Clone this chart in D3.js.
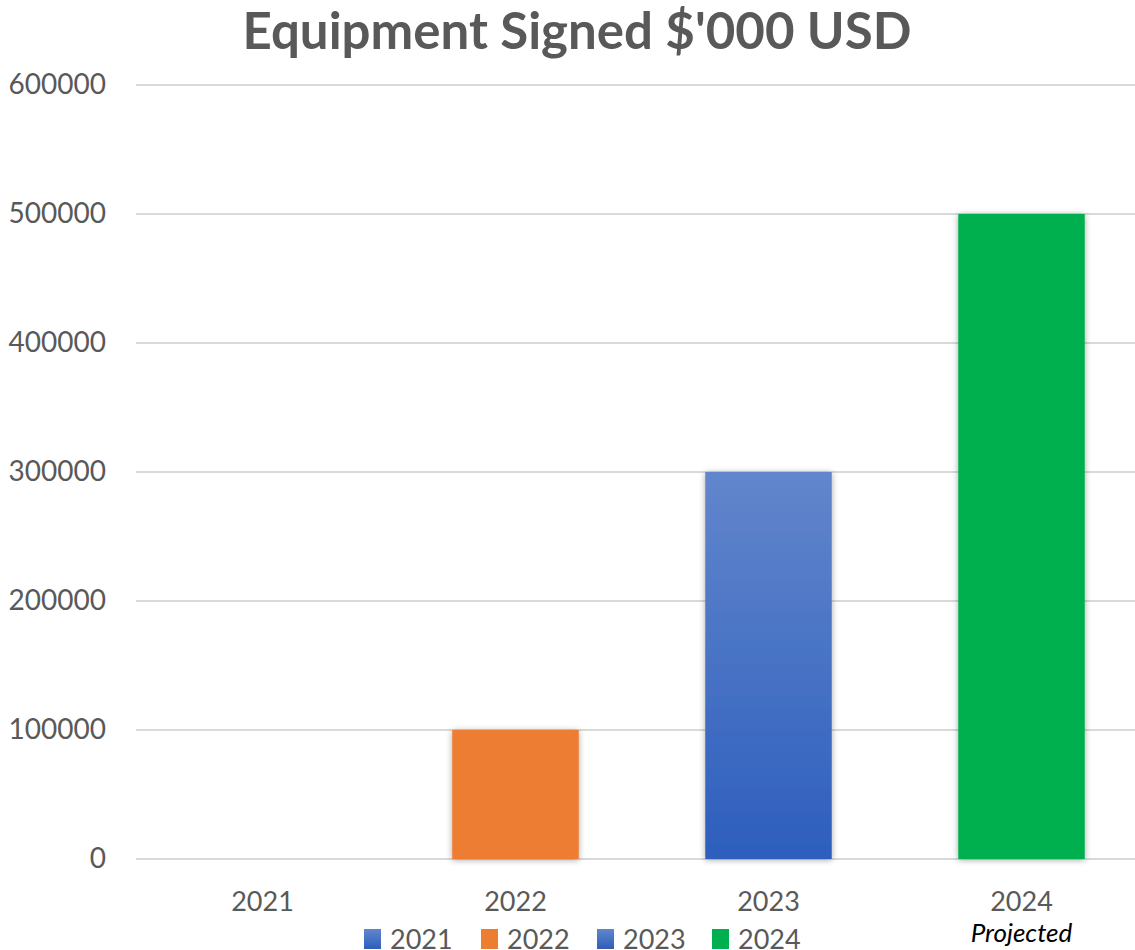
<!DOCTYPE html>
<html>
<head>
<meta charset="utf-8">
<script src="https://cdn.jsdelivr.net/npm/d3@7"></script>
<style>
  body { margin: 0; background: #fff; }
  svg { font-family: Lato, "Open Sans", sans-serif; }
</style>
</head>
<body>
<svg id="chart"></svg>
<script>
const years = ["2021", "2022", "2023", "2024"];
const values = [0, 100000, 300000, 500000];
const yTicks = [0, 100000, 200000, 300000, 400000, 500000, 600000];
const titleText = "Equipment Signed $'000 USD";
const noteText = "Projected"; // under the 2024 label

const W = 1135, H = 950;
const plot = {left: 136, right: 1148, top: 85, bottom: 859};

const svg = d3.select("#chart").attr("width", W).attr("height", H);

const defs = svg.append("defs");
const blueGrad = defs.append("linearGradient")
    .attr("id", "blueGrad").attr("x1", 0).attr("y1", 0).attr("x2", 0).attr("y2", 1);
blueGrad.append("stop").attr("offset", "0%").attr("stop-color", "#6286cc");
blueGrad.append("stop").attr("offset", "100%").attr("stop-color", "#2d5ebd");

const shadow = defs.append("filter").attr("id", "shadow")
    .attr("x", "-20%").attr("y", "-5%").attr("width", "140%").attr("height", "110%");
shadow.append("feDropShadow").attr("dx", 0).attr("dy", 1).attr("stdDeviation", 3)
    .attr("flood-color", "#000").attr("flood-opacity", 0.35);

const colors = {"2021": "url(#blueGrad)", "2022": "#ed7d31", "2023": "url(#blueGrad)", "2024": "#00b050"};

const x = d3.scaleBand().domain(years).range([plot.left, plot.right])
    .paddingInner(0.5).paddingOuter(0.25);
const y = d3.scaleLinear().domain([0, 600000]).range([plot.bottom, plot.top]);

// title
svg.append("text")
    .attr("x", 577).attr("y", 49)
    .attr("text-anchor", "middle")
    .attr("font-size", 51).attr("font-weight", "bold")
    .attr("fill", "#595959")
    .text(titleText);

// gridlines
svg.selectAll("line.grid")
    .data(yTicks)
    .enter().append("line")
    .attr("class", "grid")
    .attr("x1", plot.left).attr("x2", W)
    .attr("y1", d => y(d)).attr("y2", d => y(d))
    .attr("stroke", "#d9d9d9").attr("stroke-width", 2);

// y labels
const yAxis = d3.axisLeft(y).tickValues(yTicks).tickSize(0).tickPadding(0).tickFormat(d3.format("d"));
svg.append("g")
    .attr("transform", "translate(106,0)")
    .call(yAxis)
    .call(g => g.select(".domain").remove())
    .call(g => g.selectAll("text").attr("fill", "#595959").attr("font-size", 28)
        .attr("font-family", "Lato, sans-serif"));

// bars
svg.selectAll("rect.bar")
    .data(years.map((d, i) => ({year: d, value: values[i]})))
    .enter().append("rect")
    .attr("class", "bar")
    .attr("x", d => x(d.year))
    .attr("width", x.bandwidth())
    .attr("y", d => y(d.value))
    .attr("height", d => y(0) - y(d.value))
    .attr("fill", d => colors[d.year])
    .attr("filter", d => d.value > 0 ? "url(#shadow)" : null);

// x labels
const xAxis = d3.axisBottom(x).tickSize(0).tickPadding(0);
svg.append("g")
    .attr("transform", `translate(0,${plot.bottom + 52})`)
    .call(xAxis)
    .call(g => g.select(".domain").remove())
    .call(g => g.selectAll("text").attr("fill", "#595959").attr("font-size", 27)
        .attr("font-family", "Lato, sans-serif").attr("dy", 0));

svg.append("text")
    .attr("x", x("2024") + x.bandwidth() / 2).attr("y", 942)
    .attr("text-anchor", "middle")
    .attr("font-size", 26).attr("font-style", "italic")
    .attr("fill", "#000")
    .text(noteText);

// legend
const legendX = [364, 481, 597, 712];
const legend = svg.selectAll("g.legend")
    .data(years)
    .enter().append("g")
    .attr("class", "legend")
    .attr("transform", (d, i) => `translate(${legendX[i]},929)`);
legend.append("rect")
    .attr("width", 17).attr("height", 20)
    .attr("fill", d => colors[d]);
legend.append("text")
    .attr("x", 26).attr("y", 20)
    .attr("font-size", 27).attr("fill", "#595959")
    .text(d => d);
</script>
</body>
</html>
